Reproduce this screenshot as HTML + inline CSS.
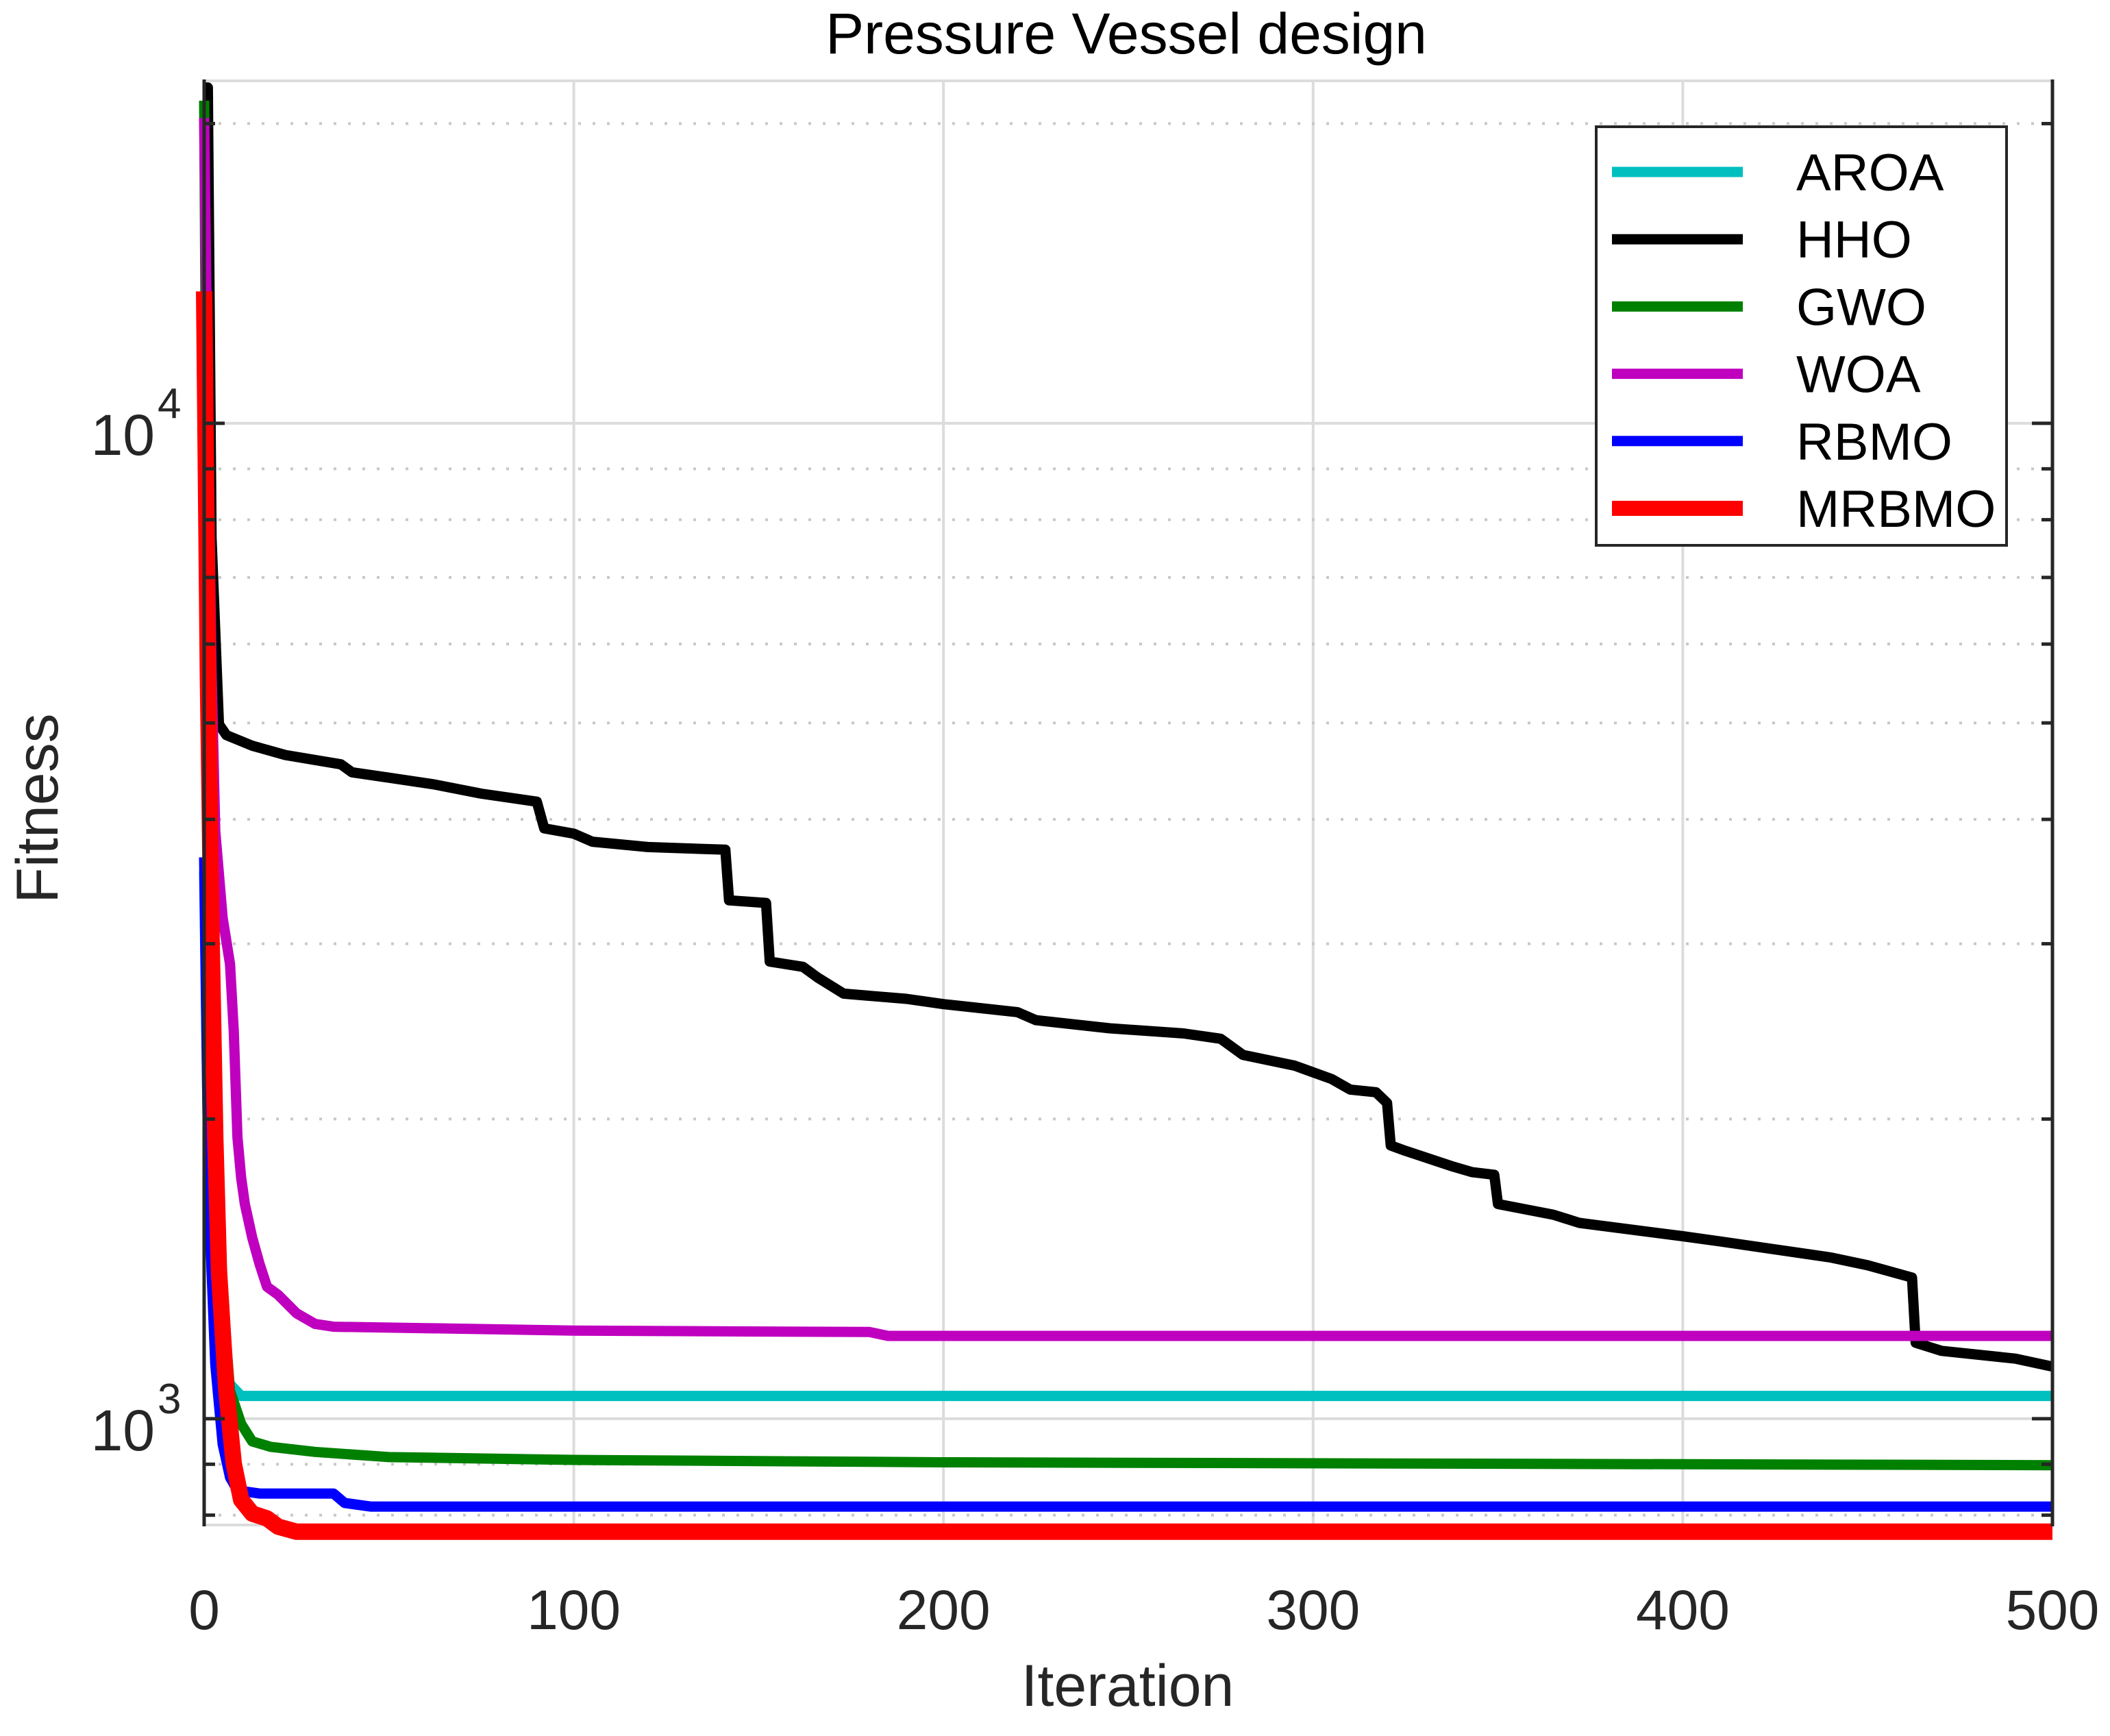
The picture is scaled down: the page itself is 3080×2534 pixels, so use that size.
<!DOCTYPE html>
<html><head><meta charset="utf-8"><style>
html,body{margin:0;padding:0;background:#fff;}
svg{display:block;font-family:"Liberation Sans",Arial,sans-serif;}
</style></head><body>
<svg id="chart" width="3080" height="2534" viewBox="0 0 3080 2534" xmlns="http://www.w3.org/2000/svg">
<rect width="3080" height="2534" fill="#fff"/>
<g id="grid"></g>
<g id="series"></g>
<g id="axes"></g>
<text x="1644" y="78" font-size="84" text-anchor="middle" fill="#000">Pressure Vessel design</text>
<text x="1646" y="2490" font-size="86" text-anchor="middle" fill="#262626">Iteration</text>
<text x="84" y="1180" font-size="86" text-anchor="middle" fill="#262626" transform="rotate(-90 84 1180)">Fitness</text>
<g id="legend"></g>
</svg>
<script>
const xTicks = [0, 100, 200, 300, 400, 500];
const yMajor = [1000, 10000];
const yMinor = [800, 900, 2000, 3000, 4000, 5000, 6000, 7000, 8000, 9000, 20000];
const seriesNames = ["AROA", "HHO", "GWO", "WOA", "RBMO", "MRBMO"];
const seriesColors = ["#00bfbf", "#000000", "#008000", "#bf00bf", "#0000ff", "#ff0000"];
const seriesWidths = [15, 15, 15, 15, 15, 24];
const aroaIter = [0, 1, 2, 4, 7, 10, 500];
const aroaVal = [3549, 1917, 1408, 1170, 1083, 1054, 1054];
const hhoIter = [0, 1, 2, 4, 6, 13, 22, 37, 40, 50, 62, 75, 90, 92, 100, 105, 120, 141, 142, 152, 153, 162, 166, 173, 190, 200, 220, 225, 245, 265, 275, 281, 295, 305, 310, 317, 320, 321, 325, 338, 343, 349, 350, 365, 372, 400, 410, 440, 450, 462, 463, 470, 490, 500];
const hhoVal = [21740, 21740, 7670, 4984, 4861, 4743, 4642, 4543, 4460, 4405, 4338, 4245, 4167, 3918, 3870, 3799, 3752, 3729, 3317, 3297, 2879, 2844, 2774, 2673, 2641, 2609, 2561, 2514, 2467, 2438, 2408, 2320, 2263, 2194, 2141, 2128, 2076, 1881, 1858, 1791, 1769, 1758, 1643, 1603, 1573, 1525, 1507, 1452, 1426, 1386, 1192, 1170, 1149, 1128];
const gwoIter = [0, 1, 3, 5, 7, 10, 13, 18, 30, 50, 100, 200, 500];
const gwoVal = [21090, 5636, 1917, 1324, 1067, 988, 949, 937, 926, 915, 909, 904, 898];
const woaIter = [0, 1, 2, 3, 5, 7, 8, 9, 10, 11, 13, 15, 17, 20, 25, 30, 35, 60, 100, 180, 185, 500];
const woaVal = [20260, 10440, 5636, 3894, 3185, 2861, 2453, 1917, 1747, 1643, 1521, 1430, 1357, 1332, 1276, 1245, 1237, 1233, 1226, 1222, 1211, 1211];
const rbmoIter = [0, 1, 2, 3, 5, 7, 9, 15, 35, 38, 45, 500];
const rbmoVal = [3664, 1917, 1408, 1135, 943, 873, 847, 841, 841, 823, 816, 816];
const mrbmoIter = [0, 1, 2, 3, 4, 6, 8, 10, 13, 17, 20, 25, 500];
const mrbmoVal = [13570, 5636, 3042, 1917, 1408, 1067, 901, 829, 803, 794, 779, 770, 770];

const NS = "http://www.w3.org/2000/svg";
const L = 298, R = 2996, T = 118, B = 2226;
const xMin = 0, xMax = 500;
const yLogMin = Math.log10(782), yLogMax = Math.log10(22080);
function xs(v){ return L + (v - xMin) / (xMax - xMin) * (R - L); }
function ys(v){ return B - (Math.log10(v) - yLogMin) / (yLogMax - yLogMin) * (B - T); }
function mk(tag, attrs, parent){ const e = document.createElementNS(NS, tag); for (const k in attrs) e.setAttribute(k, attrs[k]); parent.appendChild(e); return e; }

const grid = document.getElementById('grid');
const axes = document.getElementById('axes');
xTicks.forEach(t => {
  if (t > xMin && t < xMax) {
    const g = mk('line', {x1: xs(t), x2: xs(t), y1: T, y2: B, stroke: '#dcdcdc', 'stroke-width': 4}, grid);
    
    
  }
  const lb = mk('text', {x: xs(t), y: 2378, 'font-size': 82, 'text-anchor': 'middle', fill: '#262626'}, axes);
  lb.textContent = String(t);
  
  
});
yMajor.forEach(t => {
  const g = mk('line', {x1: L, x2: R, y1: ys(t), y2: ys(t), stroke: '#dcdcdc', 'stroke-width': 4}, grid);
  
  
  [[L, L + 30], [R, R - 30]].forEach(p => {
    const tk = mk('line', {x1: p[0], x2: p[1], y1: ys(t), y2: ys(t), stroke: '#262626', 'stroke-width': 5}, axes);
    
    
  });
  const lb = mk('text', {x: 226, y: ys(t) + 46, 'font-size': 84, 'text-anchor': 'end', fill: '#262626'}, axes);
  lb.textContent = '10';
  
  
  const sp = mk('text', {x: 230, y: ys(t) - 8, 'font-size': 62, 'text-anchor': 'start', fill: '#262626'}, axes);
  sp.textContent = String(Math.round(Math.log10(t)));
  
  
});
yMinor.forEach(t => {
  const g = mk('line', {x1: L, x2: R, y1: ys(t), y2: ys(t), stroke: '#c8c8c8', 'stroke-width': 4, 'stroke-dasharray': '4 17'}, grid);
  
  
  [[L, L + 16], [R, R - 16]].forEach(p => {
    const tk = mk('line', {x1: p[0], x2: p[1], y1: ys(t), y2: ys(t), stroke: '#262626', 'stroke-width': 5}, axes);
    
    
  });
});
const topB = mk('line', {x1: L, x2: R, y1: T, y2: T, stroke: '#dcdcdc', 'stroke-width': 4}, grid);


const botB = mk('line', {x1: L, x2: R, y1: B, y2: B, stroke: '#dcdcdc', 'stroke-width': 4}, grid);


const la = mk('line', {x1: L, x2: L, y1: T - 2, y2: B + 2, stroke: '#262626', 'stroke-width': 5}, axes);


const ra = mk('line', {x1: R, x2: R, y1: T - 2, y2: B + 2, stroke: '#262626', 'stroke-width': 5}, axes);



const sg = document.getElementById('series');
const allIter = [aroaIter, hhoIter, gwoIter, woaIter, rbmoIter, mrbmoIter];
const allVal = [aroaVal, hhoVal, gwoVal, woaVal, rbmoVal, mrbmoVal];
const drawOrder = [1, 0, 2, 3, 4, 5];
drawOrder.forEach(i => {
  const pts = allIter[i].map((it, k) => xs(it).toFixed(1) + ',' + ys(allVal[i][k]).toFixed(1)).join(' ');
  const pl = mk('polyline', {points: pts, fill: 'none', stroke: seriesColors[i], 'stroke-width': seriesWidths[i], 'stroke-linejoin': 'round', 'stroke-linecap': 'butt'}, sg);
  
  
});

const lg = document.getElementById('legend');
const box = mk('rect', {x: 2330, y: 185, width: 599, height: 611, fill: '#fff', stroke: '#262626', 'stroke-width': 4}, lg);


seriesNames.forEach((n, i) => {
  const yy = 251 + i * 98.2;
  const ln = mk('line', {x1: 2353, x2: 2544, y1: yy, y2: yy, stroke: seriesColors[i], 'stroke-width': seriesWidths[i] === 24 ? 22 : 15}, lg);
  
  
  const tx = mk('text', {x: 2622, y: yy + 27, 'font-size': 76, fill: '#000'}, lg);
  tx.textContent = n;
  
  
});
</script>
</body></html>
